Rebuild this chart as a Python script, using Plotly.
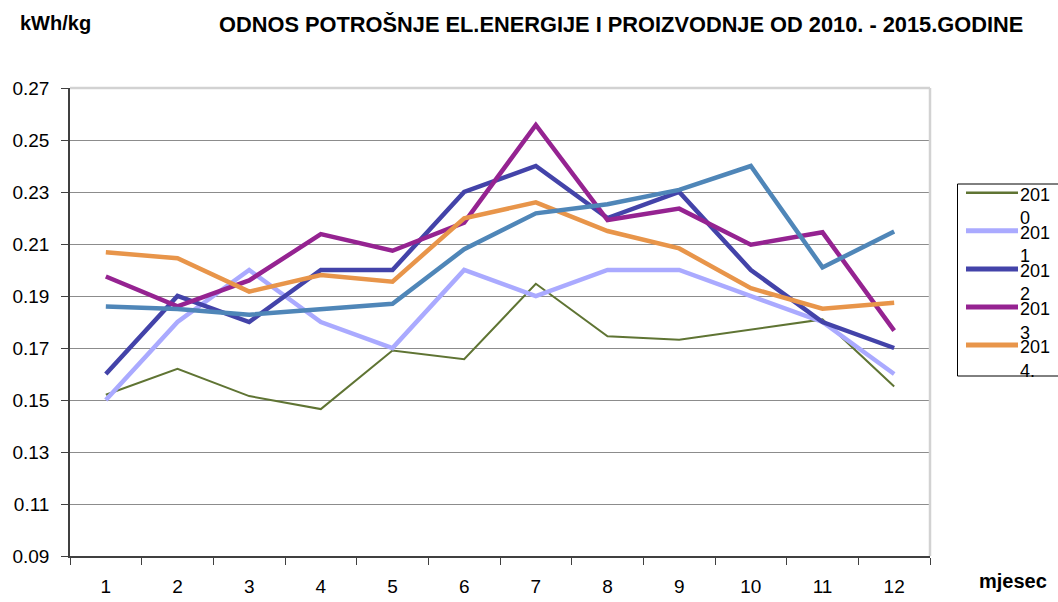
import plotly.graph_objects as go

months = ["1", "2", "3", "4", "5", "6", "7", "8", "9", "10", "11", "12"]

y2010 = [0.152, 0.162, 0.1515, 0.1465, 0.169, 0.1657, 0.1947, 0.1745, 0.1732, 0.177, 0.181, 0.1552]
y2011 = [0.150, 0.180, 0.200, 0.180, 0.170, 0.200, 0.190, 0.200, 0.200, 0.190, 0.180, 0.160]
y2012 = [0.160, 0.190, 0.180, 0.200, 0.200, 0.230, 0.240, 0.220, 0.230, 0.200, 0.180, 0.170]
y2013 = [0.1975, 0.186, 0.196, 0.2138, 0.2074, 0.2182, 0.2558, 0.2192, 0.2236, 0.2097, 0.2145, 0.1767]
y2014 = [0.2068, 0.2045, 0.1917, 0.1981, 0.1955, 0.2199, 0.226, 0.215, 0.2083, 0.193, 0.1851, 0.1874]
y2015 = [0.186, 0.185, 0.1828, 0.185, 0.187, 0.208, 0.2218, 0.2253, 0.2308, 0.240, 0.201, 0.2148]

series_names = ["2010", "2011", "2012", "2013", "2014.", "2015."]
series_values = [y2010, y2011, y2012, y2013, y2014, y2015]
series_colors = ["#5f7433", "#aaaaff", "#4343a9", "#952391", "#e8954a", "#4f86b8"]
series_widths = [2, 4.5, 4.5, 4.5, 4.5, 4.5]
in_legend = [True, True, True, True, True, False]

y_ticks = [0.09, 0.11, 0.13, 0.15, 0.17, 0.19, 0.21, 0.23, 0.25, 0.27]

W, H = 1058, 602
L, R, T, B = 70, 128, 88, 46
PW, PH = W - L - R, H - T - B


def px(xp):
    return (xp - L) / PW


def py(yp):
    return (H - B - yp) / PH


FONT = "Liberation Sans, Arial, sans-serif"

fig = go.Figure()
for name, vals, col, w in zip(series_names, series_values, series_colors, series_widths):
    fig.add_trace(go.Scatter(
        x=months, y=vals, mode="lines", name=name,
        line=dict(color=col, width=w), showlegend=False,
    ))

shapes = [
    # plot frame top and right (light gray)
    dict(type="line", xref="paper", yref="paper", x0=0, x1=1, y0=1, y1=1,
         line=dict(color="#d2d2d2", width=2.5)),
    dict(type="line", xref="paper", yref="paper", x0=1, x1=1, y0=0, y1=1,
         line=dict(color="#d2d2d2", width=2.5)),
    # legend box
    dict(type="rect", xref="paper", yref="paper", x0=px(957.5), x1=px(1075),
         y0=py(376), y1=py(184), line=dict(color="#000000", width=1)),
]

annotations = [
    dict(text="<b>ODNOS POTROŠNJE EL.ENERGIJE I PROIZVODNJE OD 2010. - 2015.GODINE</b>",
         xref="paper", yref="paper", x=px(620.5), y=py(24), xanchor="center", yanchor="middle",
         showarrow=False, font=dict(family=FONT, size=21.8, color="#000")),
    dict(text="<b>kWh/kg</b>", xref="paper", yref="paper", x=px(55.5), y=py(23),
         xanchor="center", yanchor="middle", showarrow=False,
         font=dict(family=FONT, size=20, color="#000")),
    dict(text="<b>mjesec</b>", xref="paper", yref="paper", x=px(1013), y=py(581),
         xanchor="center", yanchor="middle", showarrow=False,
         font=dict(family=FONT, size=20, color="#000")),
]

idx = 0
for name, col, w, show in zip(series_names, series_colors, series_widths, in_legend):
    if not show:
        continue
    ly = 192.7 + 38.1 * idx
    shapes.append(dict(type="line", xref="paper", yref="paper", x0=px(966), x1=px(1018),
                       y0=py(ly), y1=py(ly), line=dict(color=col, width=w + 0.5)))
    # legend label wraps in the reference: first three characters, then the rest
    for part, dy in ((name[:3], 1.5), (name[3:], 25.0)):
        annotations.append(dict(text=part, xref="paper", yref="paper",
                                x=px(1018), y=py(ly + dy), xanchor="left", yanchor="middle",
                                align="left", valign="middle", height=15, showarrow=False,
                                font=dict(family=FONT, size=18, color="#000")))
    idx += 1

fig.update_layout(
    width=W, height=H,
    margin=dict(l=L, r=R, t=T, b=B, pad=0, autoexpand=False),
    paper_bgcolor="white", plot_bgcolor="white",
    showlegend=False,
    font=dict(family=FONT, size=18, color="#000"),
    shapes=shapes,
    annotations=annotations,
    xaxis=dict(
        type="category", categoryorder="array", categoryarray=months,
        range=[-0.5, 11.5], showgrid=False, zeroline=False, automargin=False,
        showline=True, linecolor="#404040", linewidth=1.5,
        ticks="outside", tickson="boundaries", ticklen=7, tickcolor="#404040", tickwidth=1.2,
        tickfont=dict(family=FONT, size=19, color="#000"), ticklabelstandoff=12,
    ),
    yaxis=dict(
        range=[0.09, 0.27], tickvals=y_ticks, tickformat=".2f", automargin=False,
        showgrid=True, gridcolor="#8c8c8c", gridwidth=1, zeroline=False,
        showline=True, linecolor="#404040", linewidth=1.5,
        ticks="outside", ticklen=7, tickcolor="#404040", tickwidth=1.2,
        tickfont=dict(family=FONT, size=19, color="#000"), ticklabelstandoff=8,
    ),
)

fig.write_html("out.html", config={"displayModeBar": False},
               post_script="document.body.style.margin='0';")
